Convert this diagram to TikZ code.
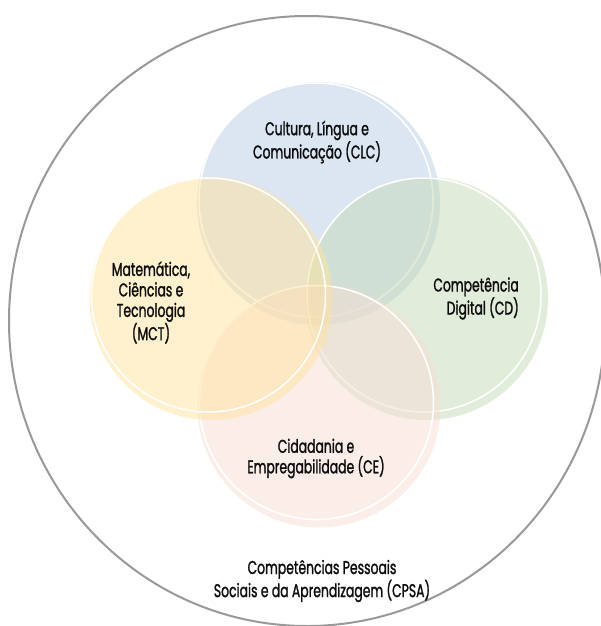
\documentclass[tikz,border=0pt]{standalone}
\usepackage{fontspec}
\usetikzlibrary{shapes.geometric}
\setmainfont[FakeStretch=0.67,FakeBold=1.3]{Poppins}

\definecolor{clcblue}{HTML}{B9CDE5}
\definecolor{cdgreen}{HTML}{C5D9B5}
\definecolor{cepink}{HTML}{F7DDD3}
\definecolor{mctyellow}{HTML}{FFE39D}

\begin{document}
\begin{tikzpicture}[x=1pt,y=-1pt,
	bubble/.style={circle,inner sep=0,outer sep=0,minimum size=243pt,fill opacity=0.5},
	rim/.style={circle,inner sep=0,outer sep=0,minimum size=234pt,draw=white,line width=1.5pt},
	lbl/.style={inner sep=0,align=center,text=black!95,font=\fontsize{18.5}{20.5}\selectfont}]
		\useasboundingbox (0,0) rectangle (600,626);
		\node[draw=gray!80,line width=2pt,ellipse,minimum width=596pt,minimum height=610pt,inner sep=0] (cpsa) at (307,321) {};
		
		\node[bubble,fill=clcblue] (clc) at (318.5,203.5) {};
		\node[rim] (clcrim) at (316,200) {};
		\node[bubble,fill=cdgreen] (cd) at (426.5,298.5) {};
		\node[rim] (cdrim) at (424,295) {};
		\node[bubble,fill=cepink] (ce) at (319,406) {};
		\node[rim] (cerim) at (316.5,402.5) {};
		\node[bubble,fill=mctyellow] (mct) at (211,298.5) {};
		\node[rim] (mctrim) at (208.5,295) {};
		
		\node[lbl] (clctxt) at (317,142) {Cultura, Língua e\\Comunicação (CLC)};
		\node[lbl,align=right,anchor=east] (cdtxt) at (519,298.5) {Competência\\Digital (CD)};
		\node[lbl] (cetxt) at (316,458.5) {Cidadania e\\Empregabilidade (CE)};
		\node[lbl] (mcttxt) at (151,302.5) {Matemática,\\Ciências e\\Tecnologia\\(MCT)};
		\node[lbl] (cpsatxt) at (322,581) {Competências Pessoais\\Sociais e da Aprendizagem (CPSA)};
		\end{tikzpicture}
\end{document}
